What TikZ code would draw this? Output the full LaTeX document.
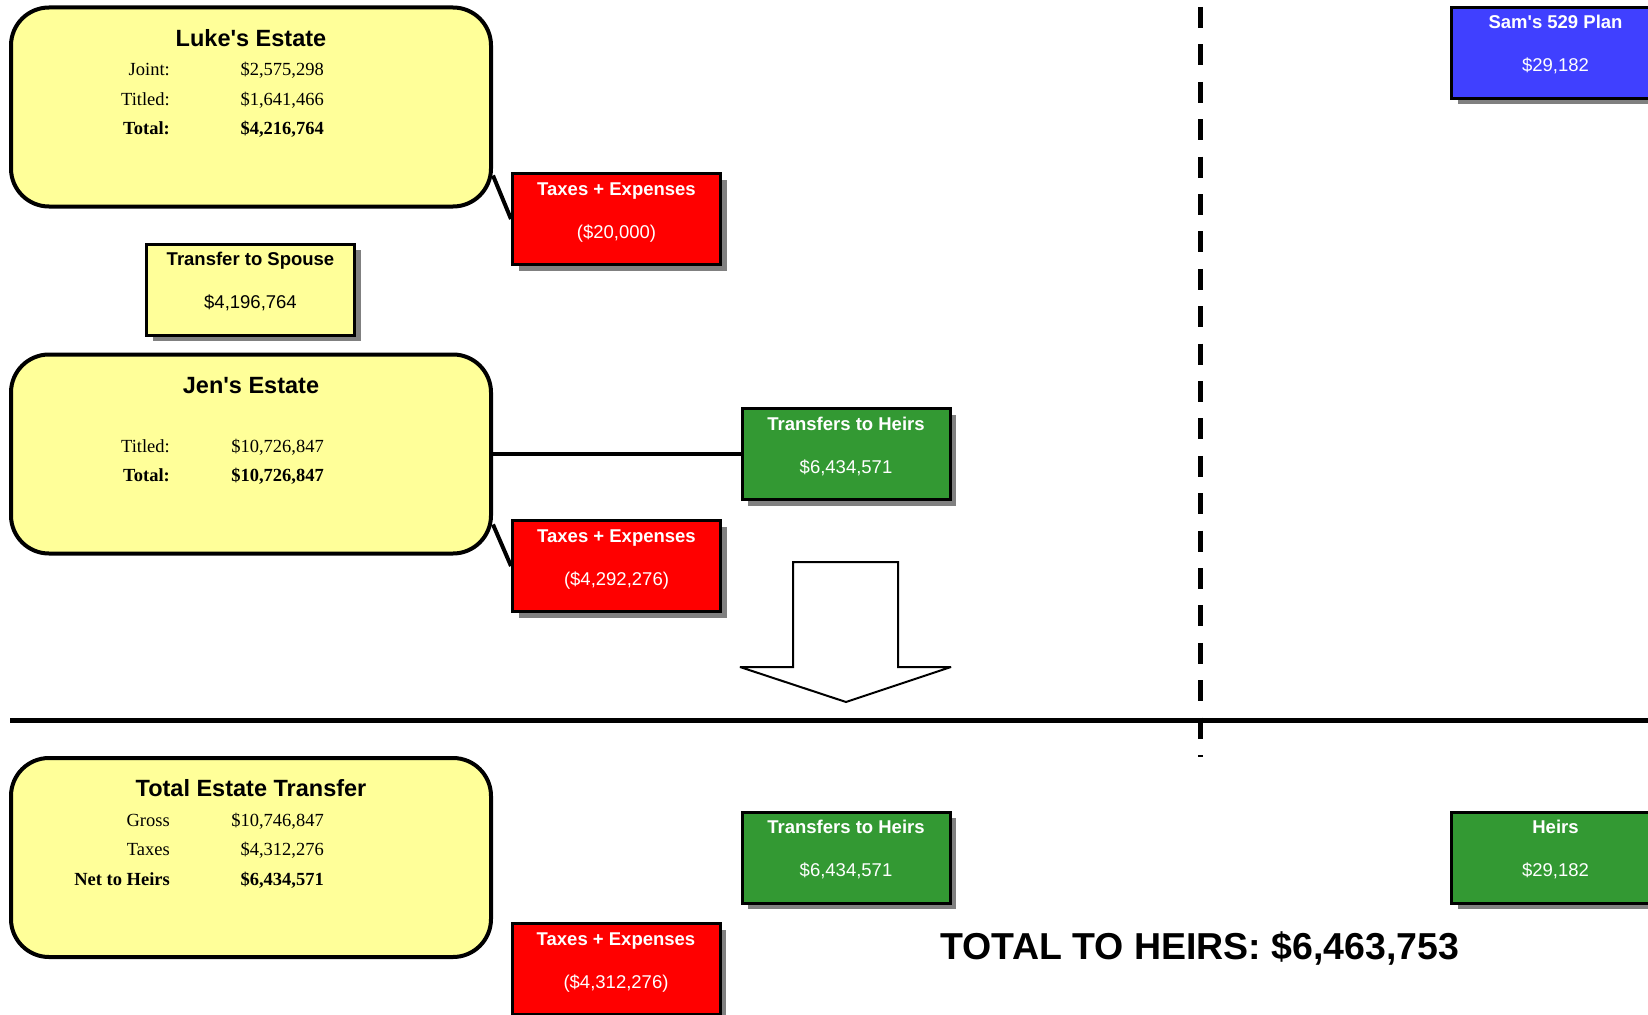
\documentclass[tikz,border=0pt]{standalone}
\usepackage{fontspec}
\setmainfont{Liberation Serif}
\newfontfamily\arialfont{Liberation Sans}
\usetikzlibrary{calc,shadows}
\definecolor{boxyellow}{HTML}{FFFF99}
\definecolor{boxred}{HTML}{FF0000}
\definecolor{boxgreen}{HTML}{339933}
\definecolor{boxblue}{HTML}{4040FF}
\definecolor{shadowgray}{HTML}{808080}
\newcommand\moneybox[7]{%
  \node[money, fill=#4] (#1) at (#2,#3) {};
  \node[boxtitle, text=#5] (#1title) at ($(#1.center)+(0,-24)$) {#6};
  \node[boxvalue, text=#5] (#1value) at ($(#1.center)+(0,19)$) {#7};
}
\begin{document}
\begin{tikzpicture}[x=1pt,y=-1pt,
  estate/.style={draw=black, line width=4pt, fill=boxyellow, rounded corners=38pt,
    minimum width=480pt, minimum height=199pt, inner sep=0pt},
  money/.style={draw=black, line width=3pt, minimum width=208pt, minimum height=91pt,
    inner sep=0pt, drop shadow={shadow xshift=6pt, shadow yshift=-6pt, fill=shadowgray, opacity=1}},
  boxtitle/.style={font=\arialfont\bfseries\fontsize{18.5}{20}\selectfont, anchor=base, inner sep=0pt},
  boxvalue/.style={font=\arialfont\fontsize{18.5}{20}\selectfont, anchor=base, inner sep=0pt},
  esttitle/.style={font=\arialfont\bfseries\fontsize{23.5}{26}\selectfont, anchor=base, inner sep=0pt},
  rowtext/.style={font=\fontsize{18.5}{20}\selectfont, anchor=base east, inner sep=0pt},
  rowbold/.style={font=\bfseries\fontsize{18.5}{20}\selectfont, anchor=base east, inner sep=0pt},
  connector/.style={line width=4pt, draw=black},
  bigtext/.style={font=\arialfont\bfseries\fontsize{37.5}{40}\selectfont, anchor=base, inner sep=0pt}
]
\clip (0,0) rectangle (1648,1014);
\fill[white] (0,0) rectangle (1648,1014);

% separators
\coordinate (dtop) at (1200.5,7);
\coordinate (dbot) at (1200.5,757);
\draw[line width=5pt, dash pattern=on 21pt off 16.4pt] (dtop) -- (dbot);
\coordinate (hleft) at (10,720);
\coordinate (hright) at (1648,720);
\draw[line width=5pt] (hleft) -- (hright);

% estate boxes
\node[estate] (luke) at (251,107) {};
\node[estate] (jen) at (251,454) {};
\node[estate] (total) at (251,857.5) {};

\node[esttitle] (luketitle) at (251,46.5) {Luke's Estate};
\node[rowtext] (l1a) at (170,76) {Joint:};
\node[rowtext] (l1b) at (324,76) {\$2,575,298};
\node[rowtext] (l2a) at (170,105.5) {Titled:};
\node[rowtext] (l2b) at (324,105.5) {\$1,641,466};
\node[rowbold] (l3a) at (170,135) {Total:};
\node[rowbold] (l3b) at (324,135) {\$4,216,764};

\node[esttitle] (jentitle) at (251,393) {Jen's Estate};
\node[rowtext] (j1a) at (170,452.5) {Titled:};
\node[rowtext] (j1b) at (324,452.5) {\$10,726,847};
\node[rowbold] (j2a) at (170,481.5) {Total:};
\node[rowbold] (j2b) at (324,481.5) {\$10,726,847};

\node[esttitle] (totaltitle) at (251,796.5) {Total Estate Transfer};
\node[rowtext] (t1a) at (170,826) {Gross};
\node[rowtext] (t1b) at (324,826) {\$10,746,847};
\node[rowtext] (t2a) at (170,855) {Taxes};
\node[rowtext] (t2b) at (324,855) {\$4,312,276};
\node[rowbold] (t3a) at (170,885) {Net to Heirs};
\node[rowbold] (t3b) at (324,885) {\$6,434,571};

% money boxes
\moneybox{tx1}{616.5}{219}{boxred}{white}{Taxes + Expenses}{(\$20,000)}
\moneybox{sp}{250.5}{289.5}{boxyellow}{black}{Transfer to Spouse}{\$4,196,764}
\moneybox{tx2}{616.5}{566}{boxred}{white}{Taxes + Expenses}{(\$4,292,276)}
\moneybox{th1}{846}{454}{boxgreen}{white}{Transfers to Heirs}{\$6,434,571}
\moneybox{sam}{1555.5}{53}{boxblue}{white}{Sam's 529 Plan}{\$29,182}
\moneybox{th2}{846}{857.5}{boxgreen}{white}{Transfers to Heirs}{\$6,434,571}
\moneybox{heirs}{1555.5}{857.5}{boxgreen}{white}{Heirs}{\$29,182}
\moneybox{tx3}{616}{969}{boxred}{white}{Taxes + Expenses}{(\$4,312,276)}

% connectors
\draw[connector] ([yshift=33pt]luke.south east) -- (tx1.west);
\draw[connector] ([yshift=31pt]jen.south east) -- (tx2.west);
\draw[connector] (jen.east) -- (th1.west);

% big down arrow
\draw[line width=2pt, fill=white, line join=miter, miter limit=1.5]
  (793,562) -- (898,562) -- (898,667) -- (951,667) -- (846,702) -- (740,667) -- (793,667) -- cycle;

\node[bigtext] (totalheirs) at (1200,959.5) {TOTAL TO HEIRS: \$6,463,753};
\end{tikzpicture}
\end{document}
